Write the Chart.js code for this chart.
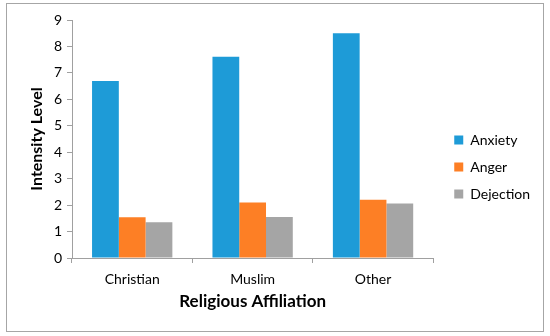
<!DOCTYPE html>
<html>
<head>
<meta charset="utf-8">
<script src="https://cdn.jsdelivr.net/npm/chart.js@4"></script>
<style>
    body { margin: 0; background: #fff; }
    #frame { position: absolute; left: 6px; top: 3px; width: 536px; height: 327px; border: 1px solid #a6a6a6; }
    #wrap { position: absolute; left: 0; top: 0; width: 550px; height: 336px; }
</style>
</head>
<body>
<div id="frame"></div>
<div id="wrap"><canvas id="myChart" width="550" height="336"></canvas></div>
<script>
const categories = ['Christian', 'Muslim', 'Other'];
const anxiety = [6.69, 7.61, 8.5];
const anger = [1.54, 2.1, 2.2];
const dejection = [1.35, 1.55, 2.06];
const yTicks = [0, 1, 2, 3, 4, 5, 6, 7, 8, 9];

const font = 'Lato, "Open Sans", sans-serif';
const axisColor = '#a0a0a0';

// nudge the legend a bit to the right, like the original
const legendShift = {
    id: 'legendShift',
    afterLayout: function (chart) {
        const lg = chart.legend;
        lg.left += 8;
        lg.right += 8;
        lg.top -= 1;
        lg.bottom -= 1;
    }
};

const ctx = document.querySelector('#myChart').getContext('2d');
const myChart = new Chart(ctx, {
    type: 'bar',
    data: {
        labels: categories,
        datasets: [
            { label: 'Anxiety', data: anxiety, backgroundColor: '#1e9bd7' },
            { label: 'Anger', data: anger, backgroundColor: '#fd7f25' },
            { label: 'Dejection', data: dejection, backgroundColor: '#a5a5a5' }
        ]
    },
    options: {
        responsive: false,
        animation: false,
        layout: { padding: { left: 23, top: 20, right: 18, bottom: 20 } },
        categoryPercentage: 0.667,
        barPercentage: 1.0,
        plugins: {
            tooltip: { enabled: false },
            legend: {
                position: 'right',
                labels: {
                    boxWidth: 9,
                    boxHeight: 9,
                    padding: 13,
                    color: '#000',
                    font: { family: font, size: 14 }
                }
            }
        },
        scales: {
            x: {
                grid: { display: true, offset: true, drawOnChartArea: false, drawTicks: true, tickLength: 5, color: axisColor },
                border: { color: axisColor },
                ticks: { color: '#000', font: { family: font, size: 14 }, padding: 8 },
                title: { display: true, text: 'Religious Affiliation', color: '#000', font: { family: font, size: 17, weight: 'bold' }, padding: { top: 10 } },
                afterFit: function (scale) { scale.height = 58; }
            },
            y: {
                min: 0,
                max: 9,
                afterBuildTicks: function (scale) { scale.ticks = yTicks.map(v => ({ value: v })); },
                grid: { display: true, drawOnChartArea: false, drawTicks: true, tickLength: 5, color: axisColor },
                border: { color: axisColor },
                ticks: { color: '#000', font: { family: font, size: 14 }, padding: 5 },
                title: { display: true, text: 'Intensity Level', color: '#000', font: { family: font, size: 16, weight: 'bold' }, padding: { bottom: 5 } },
                afterFit: function (scale) { scale.width = 49; }
            }
        }
    },
    plugins: [legendShift]
});
</script>
</body>
</html>
